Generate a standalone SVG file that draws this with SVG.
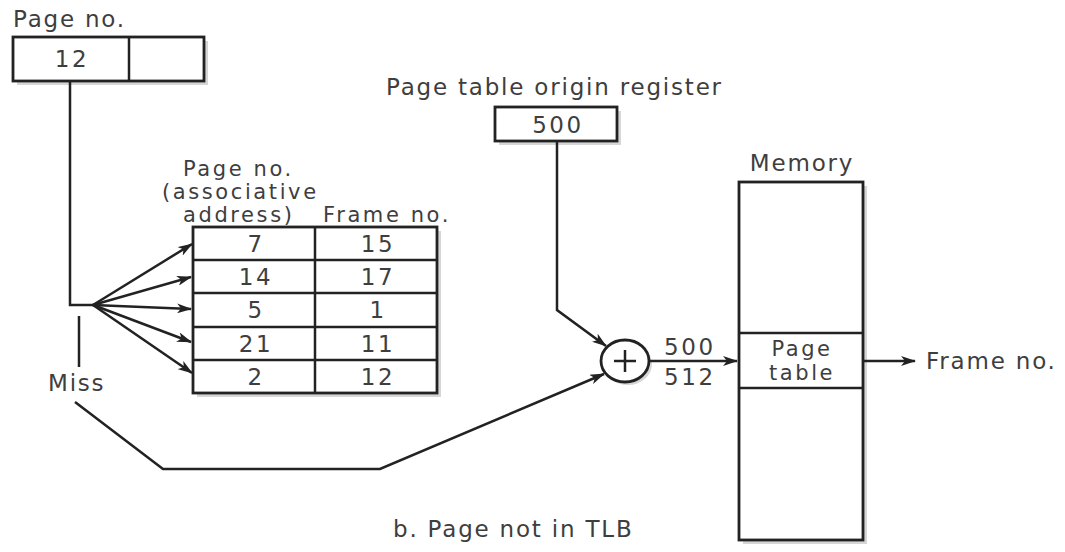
<svg xmlns="http://www.w3.org/2000/svg" width="1065" height="552" viewBox="0 0 1065 552">
<style>
.t{font-family:"DejaVu Sans","Liberation Sans",sans-serif;font-size:23px;letter-spacing:1.8px;fill:#3e3e3e}
.n{font-size:23px;letter-spacing:2.6px}
.h{font-size:21px;letter-spacing:2.6px}
.m{text-anchor:middle}
.box{fill:#fff;stroke:#222;stroke-width:2.8}
.sh{fill:#d6d6d6}
.ln{fill:none;stroke:#222;stroke-width:2.5}
.dv{stroke:#222;stroke-width:2.5}
</style>
<defs>
<marker id="ah" markerWidth="15" markerHeight="10" refX="14" refY="5" orient="auto" markerUnits="userSpaceOnUse">
<path d="M0,0 L15,5 L0,10 L4,5 z" fill="#222"/>
</marker>
</defs>
<rect width="1065" height="552" fill="#fff"/>

<g id="pageno-register">
<text class="t" x="13" y="27">Page no.</text>
<rect class="sh" x="17" y="41" width="191" height="44"/>
<rect class="box" x="13" y="37" width="191" height="44"/>
<line class="dv" x1="129" y1="37" x2="129" y2="81"/>
<text class="t n m" x="72" y="67">12</text>
</g>

<g id="tlb">
<text class="t h" x="183" y="176">Page no.</text>
<text class="t h" x="162" y="199">(associative</text>
<text class="t h" x="183" y="222">address)</text>
<text class="t h" x="323" y="222">Frame no.</text>
<rect class="sh" x="197" y="231" width="244" height="166"/>
<rect class="box" x="193" y="227" width="244" height="166"/>
<line class="dv" x1="315" y1="227" x2="315" y2="393"/>
<line class="dv" x1="193" y1="260" x2="437" y2="260"/>
<line class="dv" x1="193" y1="293" x2="437" y2="293"/>
<line class="dv" x1="193" y1="327" x2="437" y2="327"/>
<line class="dv" x1="193" y1="360" x2="437" y2="360"/>
<text class="t n m" x="256" y="252">7</text><text class="t n m" x="378" y="252">15</text>
<text class="t n m" x="256" y="285">14</text><text class="t n m" x="378" y="285">17</text>
<text class="t n m" x="256" y="318">5</text><text class="t n m" x="378" y="318">1</text>
<text class="t n m" x="256" y="352">21</text><text class="t n m" x="378" y="352">11</text>
<text class="t n m" x="256" y="385">2</text><text class="t n m" x="378" y="385">12</text>
</g>

<g id="ptor">
<text class="t" x="386" y="95">Page table origin register</text>
<rect class="sh" x="499" y="111" width="122" height="34"/>
<rect class="box" x="495" y="107" width="122" height="34"/>
<text class="t n m" x="558" y="133">500</text>
</g>

<g id="adder">
<ellipse cx="625" cy="361" rx="24" ry="21" fill="#d6d6d6" transform="translate(3,3)"/>
<ellipse class="box" cx="625" cy="361" rx="24" ry="21"/>
<line class="dv" x1="614" y1="361" x2="636" y2="361"/>
<line class="dv" x1="625" y1="350" x2="625" y2="372"/>
</g>

<g id="memory">
<text class="t m" x="802" y="171">Memory</text>
<rect class="sh" x="743" y="186" width="124" height="358"/>
<rect class="box" x="739" y="182" width="124" height="358"/>
<line class="dv" x1="739" y1="333" x2="863" y2="333"/>
<line class="dv" x1="739" y1="388" x2="863" y2="388"/>
<text class="t h m" x="802" y="356">Page</text>
<text class="t h m" x="802" y="380">table</text>
</g>

<g id="labels">
<text class="t" x="48" y="391">Miss</text>
<text class="t n" x="664" y="355">500</text>
<text class="t n" x="664" y="385">512</text>
<text class="t" x="926" y="369">Frame no.</text>
<text class="t" x="393" y="537">b. Page not in TLB</text>
</g>

<g id="connectors">
<polyline class="ln" points="70,81 70,305 93,305"/>
<line class="ln" x1="93" y1="305" x2="192" y2="244" marker-end="url(#ah)"/>
<line class="ln" x1="93" y1="305" x2="191" y2="277" marker-end="url(#ah)"/>
<line class="ln" x1="93" y1="305" x2="191" y2="309" marker-end="url(#ah)"/>
<line class="ln" x1="93" y1="305" x2="191" y2="342" marker-end="url(#ah)"/>
<line class="ln" x1="93" y1="305" x2="192" y2="373" marker-end="url(#ah)"/>
<line class="ln" x1="79" y1="316" x2="79" y2="367"/>
<polyline class="ln" points="75,402 163,469 380,469 604,374" marker-end="url(#ah)"/>
<polyline class="ln" points="557,141 557,310 606,346" marker-end="url(#ah)"/>
<line class="ln" x1="649" y1="361" x2="737" y2="361" marker-end="url(#ah)"/>
<line class="ln" x1="863" y1="361" x2="915" y2="361" marker-end="url(#ah)"/>
</g>
</svg>
